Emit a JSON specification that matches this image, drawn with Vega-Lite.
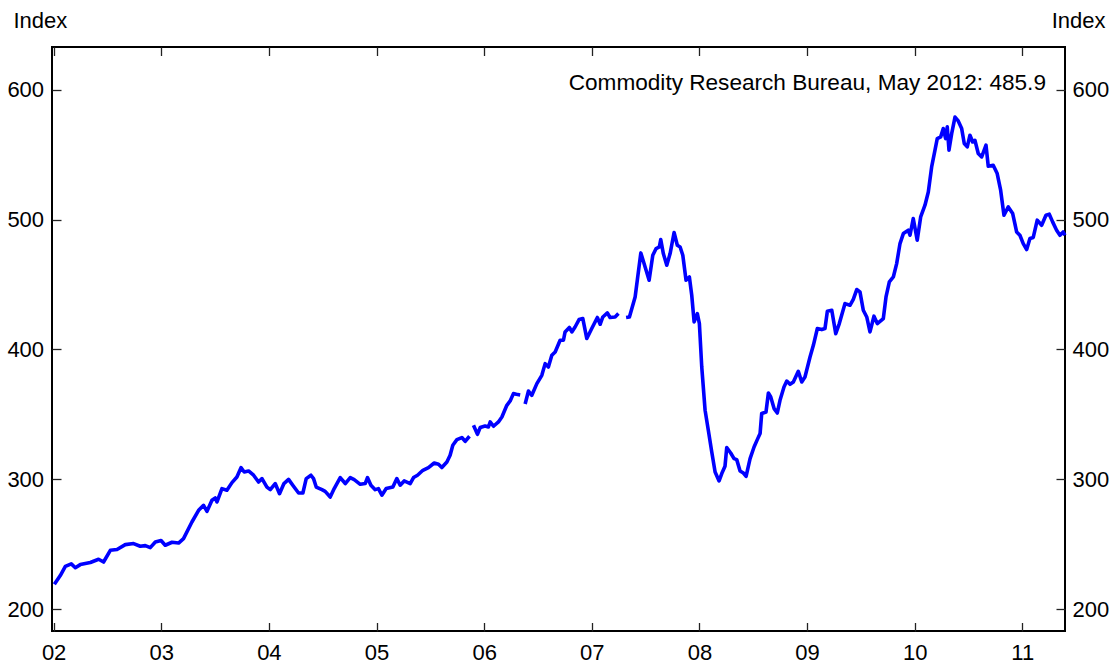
{
  "$schema": "https://vega.github.io/schema/vega-lite/v6.json",
  "width": 1013,
  "height": 584,
  "autosize": {"type": "none"},
  "padding": {"left": 52, "top": 47, "right": 49, "bottom": 36},
  "background": "white",
  "config": {
    "view": {"stroke": "black", "strokeWidth": 2},
    "axis": {
      "labelFont": "Liberation Sans", "labelFontSize": 22, "labelColor": "black",
      "titleFont": "Liberation Sans", "titleFontSize": 22, "titleFontWeight": "normal", "titleColor": "black",
      "domain": false, "grid": false, "tickColor": "#222", "tickWidth": 1.3, "labelFlush": false, "labelOverlap": false
    }
  },
  "layer": [
    {
      "data": {"values": [
        {"t": 2002.007, "v": 219.2}, {"t": 2002.062, "v": 226}, {"t": 2002.109, "v": 233}, {"t": 2002.164, "v": 235},
        {"t": 2002.202, "v": 232}, {"t": 2002.248, "v": 234.4}, {"t": 2002.341, "v": 236}, {"t": 2002.418, "v": 238.5},
        {"t": 2002.464, "v": 236.4}, {"t": 2002.527, "v": 245.4}, {"t": 2002.589, "v": 246}, {"t": 2002.666, "v": 249.8},
        {"t": 2002.743, "v": 250.6}, {"t": 2002.805, "v": 248.5}, {"t": 2002.852, "v": 249}, {"t": 2002.898, "v": 247.5},
        {"t": 2002.945, "v": 251.8}, {"t": 2002.998, "v": 253}, {"t": 2003.037, "v": 249.3}, {"t": 2003.1, "v": 251.6},
        {"t": 2003.161, "v": 251}, {"t": 2003.207, "v": 254.4}, {"t": 2003.285, "v": 267.2}, {"t": 2003.347, "v": 276.2},
        {"t": 2003.393, "v": 280}, {"t": 2003.425, "v": 275.4}, {"t": 2003.471, "v": 283.9}, {"t": 2003.502, "v": 285.7},
        {"t": 2003.518, "v": 282.6}, {"t": 2003.564, "v": 292.9}, {"t": 2003.61, "v": 291.6}, {"t": 2003.657, "v": 297.5},
        {"t": 2003.703, "v": 301.8}, {"t": 2003.741, "v": 309}, {"t": 2003.771, "v": 305.7}, {"t": 2003.811, "v": 306.5},
        {"t": 2003.858, "v": 303.2}, {"t": 2003.904, "v": 298}, {"t": 2003.936, "v": 300.6}, {"t": 2003.982, "v": 294.1},
        {"t": 2004.013, "v": 292.1}, {"t": 2004.059, "v": 296.8}, {"t": 2004.099, "v": 289}, {"t": 2004.14, "v": 296.8},
        {"t": 2004.183, "v": 300}, {"t": 2004.229, "v": 294.7}, {"t": 2004.276, "v": 289.5}, {"t": 2004.316, "v": 289.5},
        {"t": 2004.347, "v": 300.6}, {"t": 2004.391, "v": 303.2}, {"t": 2004.415, "v": 300.6}, {"t": 2004.44, "v": 294.1},
        {"t": 2004.493, "v": 292.1}, {"t": 2004.523, "v": 290.8}, {"t": 2004.57, "v": 286.4}, {"t": 2004.607, "v": 292.9},
        {"t": 2004.663, "v": 301.4}, {"t": 2004.71, "v": 296.8}, {"t": 2004.756, "v": 301.4}, {"t": 2004.793, "v": 299.8},
        {"t": 2004.849, "v": 296.2}, {"t": 2004.895, "v": 296.8}, {"t": 2004.916, "v": 301.4}, {"t": 2004.948, "v": 295.5},
        {"t": 2004.988, "v": 292.1}, {"t": 2005.018, "v": 292.9}, {"t": 2005.05, "v": 287.8}, {"t": 2005.09, "v": 292.9},
        {"t": 2005.152, "v": 294.1}, {"t": 2005.189, "v": 300.6}, {"t": 2005.22, "v": 295.5}, {"t": 2005.257, "v": 298.8},
        {"t": 2005.313, "v": 296.8}, {"t": 2005.344, "v": 301.4}, {"t": 2005.381, "v": 303.2}, {"t": 2005.431, "v": 307},
        {"t": 2005.483, "v": 309.1}, {"t": 2005.536, "v": 312.6}, {"t": 2005.576, "v": 311.6}, {"t": 2005.607, "v": 309.1},
        {"t": 2005.654, "v": 313.4}, {"t": 2005.684, "v": 318.6}, {"t": 2005.709, "v": 326.3}, {"t": 2005.747, "v": 330.6},
        {"t": 2005.793, "v": 332.2}, {"t": 2005.824, "v": 329.3}, {"t": 2005.864, "v": 333.2},
        {"t": 2005.88, "v": null},
        {"t": 2005.901, "v": 341.6}, {"t": 2005.938, "v": 334.7}, {"t": 2005.963, "v": 339.9}, {"t": 2006.009, "v": 341.1},
        {"t": 2006.04, "v": 340.3}, {"t": 2006.056, "v": 344.2}, {"t": 2006.087, "v": 340.9}, {"t": 2006.133, "v": 344.2},
        {"t": 2006.165, "v": 348}, {"t": 2006.211, "v": 357}, {"t": 2006.242, "v": 360.4}, {"t": 2006.272, "v": 366},
        {"t": 2006.3, "v": 365.5}, {"t": 2006.335, "v": 365},
        {"t": 2006.36, "v": null},
        {"t": 2006.381, "v": 358}, {"t": 2006.412, "v": 368}, {"t": 2006.443, "v": 364.7}, {"t": 2006.49, "v": 373.7},
        {"t": 2006.536, "v": 380.1}, {"t": 2006.567, "v": 389.1}, {"t": 2006.597, "v": 386.5}, {"t": 2006.629, "v": 395.5},
        {"t": 2006.66, "v": 398.1}, {"t": 2006.706, "v": 407.1}, {"t": 2006.737, "v": 407.1}, {"t": 2006.752, "v": 413.5},
        {"t": 2006.792, "v": 416.9}, {"t": 2006.815, "v": 413.5}, {"t": 2006.845, "v": 417.3}, {"t": 2006.882, "v": 423},
        {"t": 2006.917, "v": 423.8}, {"t": 2006.954, "v": 408.4}, {"t": 2007.0, "v": 416.1}, {"t": 2007.052, "v": 424.6},
        {"t": 2007.078, "v": 419.4}, {"t": 2007.103, "v": 425}, {"t": 2007.145, "v": 428.1}, {"t": 2007.17, "v": 424.6},
        {"t": 2007.217, "v": 425}, {"t": 2007.248, "v": 427.6},
        {"t": 2007.28, "v": null},
        {"t": 2007.319, "v": 424.6}, {"t": 2007.35, "v": 425}, {"t": 2007.403, "v": 440.4}, {"t": 2007.424, "v": 453.8},
        {"t": 2007.456, "v": 474.3}, {"t": 2007.486, "v": 466.1}, {"t": 2007.533, "v": 453.3}, {"t": 2007.567, "v": 472.5},
        {"t": 2007.598, "v": 477.7}, {"t": 2007.628, "v": 478.9}, {"t": 2007.641, "v": 484.6}, {"t": 2007.665, "v": 473.8},
        {"t": 2007.697, "v": 464.8}, {"t": 2007.728, "v": 473.8}, {"t": 2007.765, "v": 490}, {"t": 2007.795, "v": 480.2},
        {"t": 2007.821, "v": 478.9}, {"t": 2007.846, "v": 472.5}, {"t": 2007.876, "v": 453.3}, {"t": 2007.907, "v": 455.8},
        {"t": 2007.929, "v": 441.7}, {"t": 2007.951, "v": 421.2}, {"t": 2007.981, "v": 427.6}, {"t": 2008.0, "v": 419.9},
        {"t": 2008.022, "v": 386.5}, {"t": 2008.053, "v": 353.2}, {"t": 2008.083, "v": 337.8}, {"t": 2008.115, "v": 321.1},
        {"t": 2008.146, "v": 305.7}, {"t": 2008.183, "v": 298.8}, {"t": 2008.208, "v": 304.5}, {"t": 2008.238, "v": 310.1},
        {"t": 2008.254, "v": 324.5}, {"t": 2008.291, "v": 320.3}, {"t": 2008.322, "v": 316}, {"t": 2008.347, "v": 315.2},
        {"t": 2008.378, "v": 306.5}, {"t": 2008.409, "v": 304.9}, {"t": 2008.434, "v": 302.4}, {"t": 2008.471, "v": 316},
        {"t": 2008.508, "v": 324.9}, {"t": 2008.538, "v": 330.6}, {"t": 2008.564, "v": 335.3}, {"t": 2008.579, "v": 350.7},
        {"t": 2008.619, "v": 351.9}, {"t": 2008.641, "v": 366.5}, {"t": 2008.663, "v": 363.4}, {"t": 2008.694, "v": 354.5},
        {"t": 2008.724, "v": 351.1}, {"t": 2008.749, "v": 360.9}, {"t": 2008.786, "v": 371.1}, {"t": 2008.812, "v": 375.7},
        {"t": 2008.842, "v": 373.2}, {"t": 2008.873, "v": 375}, {"t": 2008.919, "v": 383.2}, {"t": 2008.951, "v": 375},
        {"t": 2008.981, "v": 378.8}, {"t": 2009.028, "v": 394.2}, {"t": 2009.059, "v": 403.2}, {"t": 2009.096, "v": 416.1},
        {"t": 2009.137, "v": 415.3}, {"t": 2009.167, "v": 416.1}, {"t": 2009.189, "v": 429.4}, {"t": 2009.23, "v": 430.2},
        {"t": 2009.267, "v": 412.2}, {"t": 2009.3, "v": 419.9}, {"t": 2009.353, "v": 435.3}, {"t": 2009.399, "v": 434},
        {"t": 2009.43, "v": 438.6}, {"t": 2009.462, "v": 446.1}, {"t": 2009.492, "v": 444.3}, {"t": 2009.523, "v": 430.2},
        {"t": 2009.555, "v": 425}, {"t": 2009.585, "v": 413.5}, {"t": 2009.622, "v": 425.6}, {"t": 2009.653, "v": 419.9},
        {"t": 2009.709, "v": 423.8}, {"t": 2009.734, "v": 440.4}, {"t": 2009.765, "v": 452}, {"t": 2009.802, "v": 455.8},
        {"t": 2009.833, "v": 466.1}, {"t": 2009.864, "v": 481.5}, {"t": 2009.895, "v": 489.2}, {"t": 2009.941, "v": 491.8},
        {"t": 2009.957, "v": 487.9}, {"t": 2009.987, "v": 500.8}, {"t": 2010.024, "v": 484.1}, {"t": 2010.056, "v": 502},
        {"t": 2010.096, "v": 511}, {"t": 2010.127, "v": 521.2}, {"t": 2010.158, "v": 540.5}, {"t": 2010.189, "v": 553.4},
        {"t": 2010.21, "v": 562.3}, {"t": 2010.242, "v": 563.6}, {"t": 2010.266, "v": 570}, {"t": 2010.288, "v": 562.3},
        {"t": 2010.303, "v": 571.3}, {"t": 2010.319, "v": 553.4}, {"t": 2010.344, "v": 566.1}, {"t": 2010.375, "v": 578.9},
        {"t": 2010.405, "v": 575.9}, {"t": 2010.437, "v": 570}, {"t": 2010.461, "v": 558.5}, {"t": 2010.489, "v": 555.9},
        {"t": 2010.514, "v": 564.9}, {"t": 2010.539, "v": 559.7}, {"t": 2010.56, "v": 561}, {"t": 2010.591, "v": 550.8},
        {"t": 2010.623, "v": 548.2}, {"t": 2010.663, "v": 557.2}, {"t": 2010.684, "v": 541}, {"t": 2010.73, "v": 541.8},
        {"t": 2010.767, "v": 535.4}, {"t": 2010.799, "v": 522.6}, {"t": 2010.83, "v": 503.3}, {"t": 2010.87, "v": 509.7},
        {"t": 2010.911, "v": 504.6}, {"t": 2010.948, "v": 490.4}, {"t": 2010.978, "v": 487.9}, {"t": 2011.009, "v": 481.5},
        {"t": 2011.041, "v": 476.9}, {"t": 2011.071, "v": 485.4}, {"t": 2011.102, "v": 486.2}, {"t": 2011.139, "v": 499.5},
        {"t": 2011.18, "v": 495.6}, {"t": 2011.22, "v": 503.3}, {"t": 2011.251, "v": 504.1}, {"t": 2011.282, "v": 498.2},
        {"t": 2011.319, "v": 491.8}, {"t": 2011.35, "v": 487.9}, {"t": 2011.38, "v": 490.4}, {"t": 2011.396, "v": 487.9}
      ]},
      "mark": {"type": "line", "color": "#0000ff", "strokeWidth": 3.6, "strokeJoin": "round", "invalid": "break-paths-show-domains"},
      "encoding": {
        "x": {
          "field": "t", "type": "quantitative",
          "scale": {"domain": [2001.985, 2011.397], "nice": false, "zero": false},
          "axis": {"orient": "bottom", "values": [2002, 2003, 2004, 2005, 2006, 2007, 2008, 2009, 2010, 2011],
                   "labelExpr": "substring(toString(datum.value), 2, 4)", "tickSize": -8.5, "labelPadding": 20, "title": null}
        },
        "y": {
          "field": "v", "type": "quantitative",
          "scale": {"domain": [183.3, 632.8], "nice": false, "zero": false},
          "axis": {"orient": "left", "values": [200, 300, 400, 500, 600], "tickSize": -9, "labelPadding": 17.4,
                   "title": "Index", "titleAngle": 0, "titleAlign": "left", "titleBaseline": "alphabetic", "titleX": -39, "titleY": -20}
        }
      }
    },
    {
      "data": {"values": [{"label": "Commodity Research Bureau, May 2012: 485.9"}]},
      "mark": {"type": "text", "align": "right", "baseline": "alphabetic", "font": "Liberation Sans", "fontSize": 22.6, "color": "black"},
      "encoding": {
        "text": {"field": "label"},
        "x": {
          "datum": 2011.22, "type": "quantitative",
          "axis": {"orient": "top", "values": [2002, 2003, 2004, 2005, 2006, 2007, 2008, 2009, 2010, 2011], "labels": false, "tickSize": -8.5, "title": null}
        },
        "y": {
          "datum": 600, "type": "quantitative",
          "axis": {"orient": "right", "values": [200, 300, 400, 500, 600], "tickSize": -9, "labelPadding": 16,
                   "title": "Index", "titleAngle": 0, "titleAlign": "right", "titleBaseline": "alphabetic", "titleX": 40, "titleY": -20}
        }
      }
    }
  ],
  "resolve": {"axis": {"x": "independent", "y": "independent"}}
}
